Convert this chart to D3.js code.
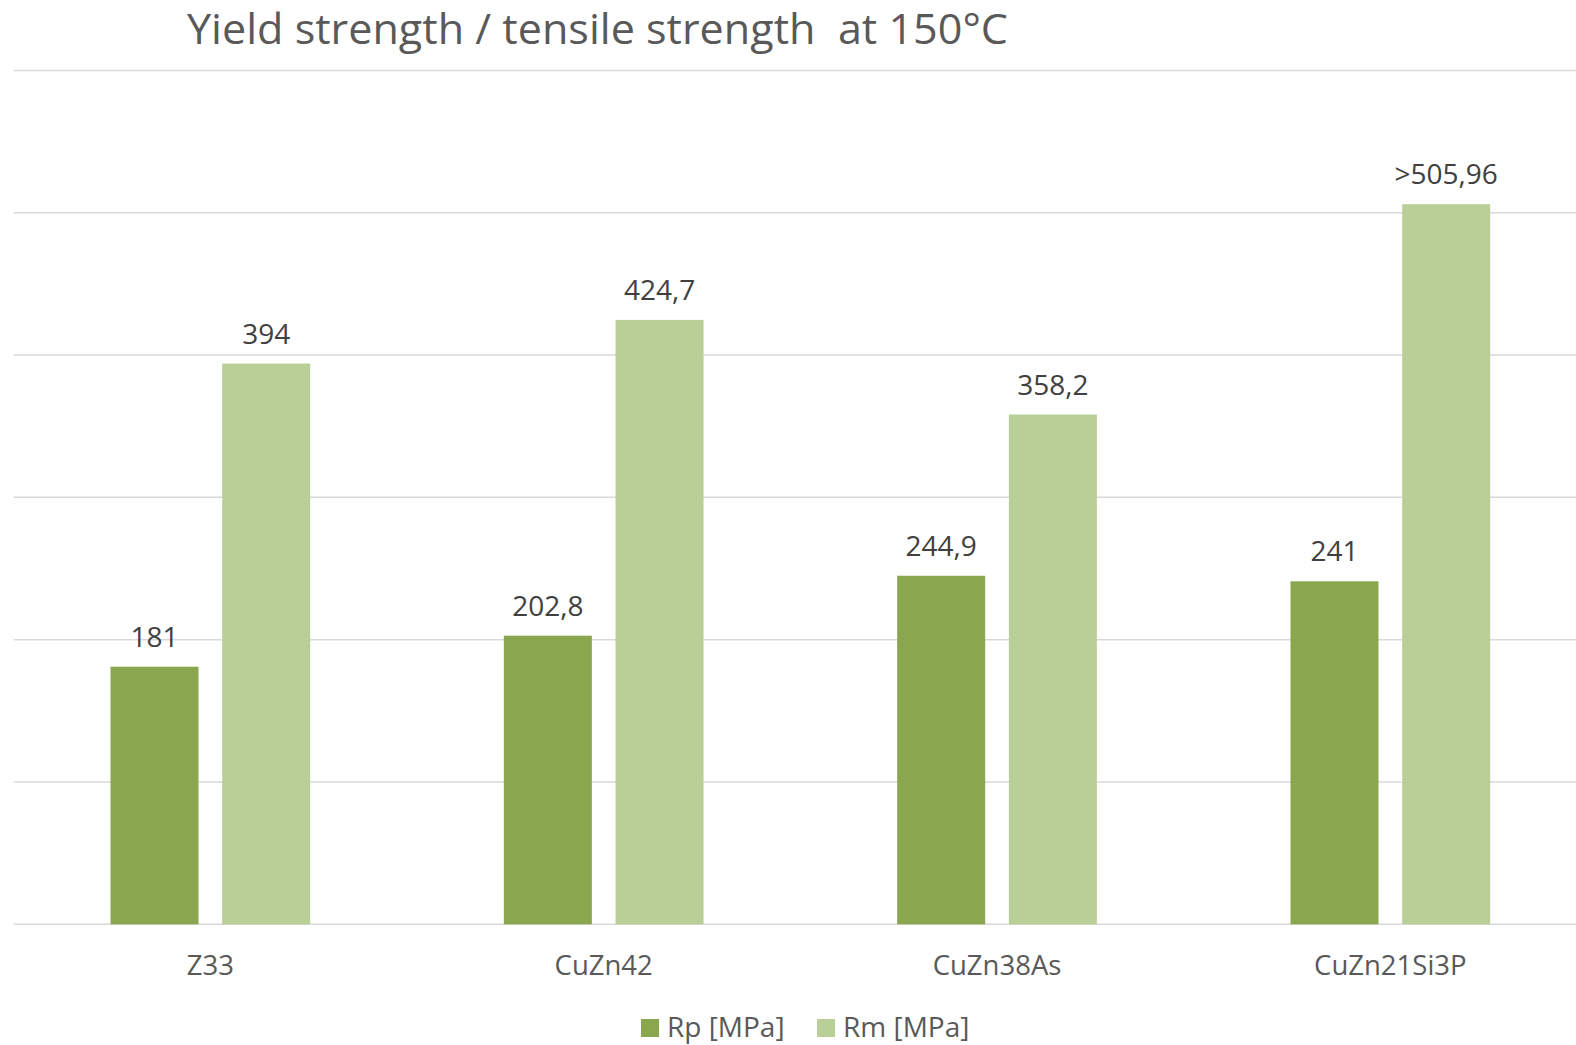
<!DOCTYPE html>
<html>
<head>
<meta charset="utf-8">
<script src="https://cdn.jsdelivr.net/npm/d3@7"></script>
<style>
  html, body { margin: 0; padding: 0; background: #fff; }
  svg { display: block; }
</style>
</head>
<body>
<svg id="chart" width="1576" height="1045"></svg>
<script>
// Alloys and measured strengths at 150 °C
const categories = ["Z33", "CuZn42", "CuZn38As", "CuZn21Si3P"];
const seriesNames = ["Rp [MPa]", "Rm [MPa]"];
const rpValues = [181, 202.8, 244.9, 241];
const rmValues = [394, 424.7, 358.2, 505.96];
const rpLabels = ["181", "202,8", "244,9", "241"];
const rmLabels = ["394", "424,7", "358,2", ">505,96"];
const yTicks = [0, 100, 200, 300, 400, 500, 600];
const seriesColors = ["#8AA64E", "#BACE98"];

const svg = d3.select("#chart");
const W = 1576, H = 1045;
const plot = { left: 13.7, right: 1587, top: 70.4, bottom: 924.3 };

const x0 = d3.scaleBand().domain(categories).range([plot.left, plot.right]).paddingInner(0).paddingOuter(0);
const x1 = d3.scaleBand().domain(seriesNames).range([-99.85, 99.85]).paddingInner(0.212).paddingOuter(0);
const y = d3.scaleLinear().domain([0, 600]).range([plot.bottom, plot.top]);

const labelFont = "'Open Sans', 'Noto Sans', sans-serif";
const titleFont = "'Liberation Sans Narrow', 'Open Sans', sans-serif";

// Horizontal gridlines
svg.append("g").selectAll("line").data(yTicks).join("line")
  .attr("x1", plot.left).attr("x2", W)
  .attr("y1", d => y(d)).attr("y2", d => y(d))
  .attr("stroke", "#D9D9D9").attr("stroke-width", 1.5);

// Bars
const rows = categories.map((c, i) => ({
  cat: c,
  vals: [
    { s: seriesNames[0], v: rpValues[i], label: rpLabels[i], color: seriesColors[0] },
    { s: seriesNames[1], v: rmValues[i], label: rmLabels[i], color: seriesColors[1] }
  ]
}));

const groups = svg.append("g").selectAll("g").data(rows).join("g")
  .attr("transform", d => `translate(${x0(d.cat) + x0.bandwidth() / 2},0)`);

groups.selectAll("rect").data(d => d.vals).join("rect")
  .attr("x", d => x1(d.s))
  .attr("width", x1.bandwidth())
  .attr("y", d => y(d.v))
  .attr("height", d => y(0) - y(d.v))
  .attr("fill", d => d.color);

// Value labels
groups.selectAll("text").data(d => d.vals).join("text")
  .attr("x", d => x1(d.s) + x1.bandwidth() / 2)
  .attr("y", d => y(d.v) - 20)
  .attr("text-anchor", "middle")
  .attr("font-family", labelFont)
  .attr("font-size", 28)
  .attr("fill", "#404040")
  .text(d => d.label);

// Category axis
const xAxis = d3.axisBottom(x0).tickSize(0).tickPadding(0);
const axisG = svg.append("g").attr("transform", `translate(0,${plot.bottom})`).call(xAxis);
axisG.select(".domain").remove();
axisG.selectAll("text")
  .attr("y", 51).attr("dy", 0)
  .attr("font-family", labelFont)
  .attr("font-size", 27.5)
  .attr("fill", "#595959");

// Title
svg.append("text")
  .attr("x", 187).attr("y", 44)
  .attr("font-family", titleFont)
  .attr("font-size", 42)
  .attr("fill", "#595959")
  .attr("textLength", 821)
  .attr("lengthAdjust", "spacingAndGlyphs")
  .attr("xml:space", "preserve")
  .text("Yield strength / tensile strength  at 150°C");

// Legend
const legendItems = [
  { name: seriesNames[0], color: seriesColors[0], x: 641 },
  { name: seriesNames[1], color: seriesColors[1], x: 817 }
];
const lg = svg.append("g").selectAll("g").data(legendItems).join("g")
  .attr("transform", d => `translate(${d.x},1019)`);
lg.append("rect").attr("width", 18).attr("height", 18).attr("fill", d => d.color);
lg.append("text")
  .attr("x", 26).attr("y", 17.5)
  .attr("font-family", labelFont)
  .attr("font-size", 28)
  .attr("fill", "#595959")
  .text(d => d.name);
</script>
</body>
</html>
